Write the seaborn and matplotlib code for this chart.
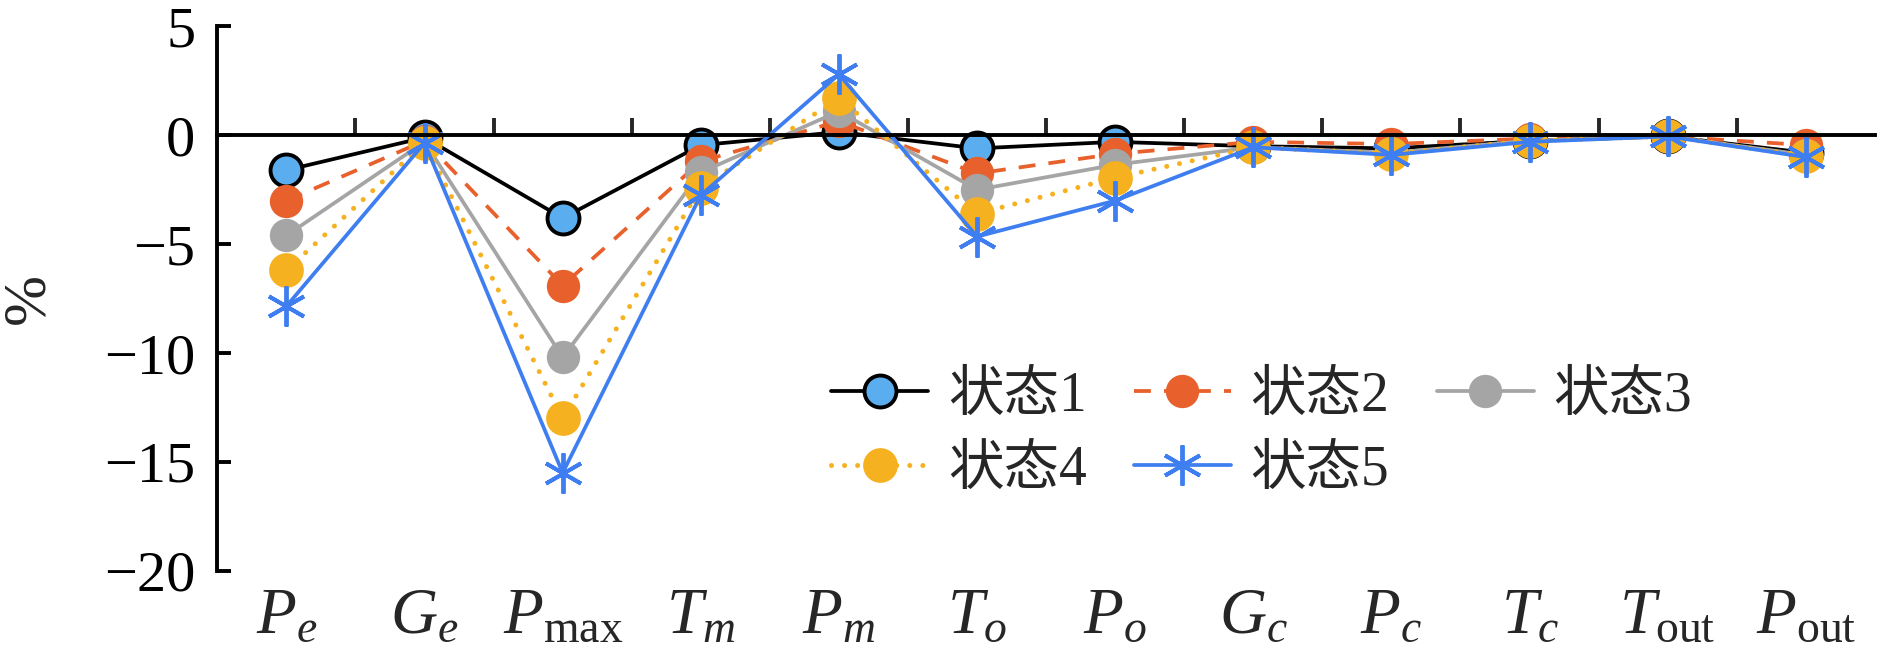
import numpy as np
import pandas as pd
import seaborn as sns
import matplotlib
matplotlib.use('Agg')
import matplotlib.pyplot as plt

# 参数名称
categories = [r'$P_e$', r'$G_e$', r'$P_{\mathrm{max}}$', r'$T_m$', r'$P_m$', r'$T_o$',
              r'$P_o$', r'$G_c$', r'$P_c$', r'$T_c$', r'$T_{\mathrm{out}}$', r'$P_{\mathrm{out}}$']

# 各状态下的相对变化 (%)
state1 = [-1.6, -0.1, -3.8, -0.45, 0.15, -0.6, -0.3, -0.5, -0.6, -0.25, -0.05, -0.8]
state2 = [-3.0, -0.25, -6.9, -1.2, 0.65, -1.75, -0.85, -0.3, -0.4, -0.15, -0.05, -0.45]
state3 = [-4.6, -0.3, -10.2, -1.7, 1.1, -2.5, -1.35, -0.55, -0.8, -0.25, -0.05, -0.9]
state4 = [-6.2, -0.35, -13.0, -2.4, 1.7, -3.6, -1.95, -0.55, -0.85, -0.25, -0.05, -0.95]
state5 = [-7.85, -0.35, -15.5, -2.75, 2.8, -4.65, -3.0, -0.55, -0.9, -0.3, -0.05, -1.0]

labels = ['状态1', '状态2', '状态3', '状态4', '状态5']
yticks = [5, 0, -5, -10, -15, -20]


def main():
    sns.set_theme(style='white')
    plt.rcParams['font.family'] = ['Liberation Serif', 'Noto Sans CJK SC']
    plt.rcParams['mathtext.fontset'] = 'custom'
    plt.rcParams['mathtext.it'] = 'Liberation Serif:italic'
    plt.rcParams['mathtext.rm'] = 'Liberation Serif'

    pos = np.arange(len(categories))
    data = pd.DataFrame({'pos': pos, '状态1': state1, '状态2': state2,
                         '状态3': state3, '状态4': state4, '状态5': state5})

    fig = plt.figure(figsize=(18.9, 6.45), dpi=100)
    ax = fig.add_axes([0.115, 0.115, 0.877, 0.844])

    lw = 2.7
    styles = {
        '状态1': dict(color='black', linestyle='-', marker='o', markersize=23,
                    markerfacecolor='#5AAEF0', markeredgecolor='black', markeredgewidth=2.8),
        '状态2': dict(color='#E8602C', linestyle=(0, (4.5, 3.5)), marker='o', markersize=24,
                    markerfacecolor='#E8602C', markeredgewidth=0),
        '状态3': dict(color='#A5A5A5', linestyle='-', marker='o', markersize=24,
                    markerfacecolor='#A5A5A5', markeredgewidth=0),
        '状态4': dict(color='#F5B11F', linestyle=(0, (0.01, 2.6)), dash_capstyle='round',
                    marker='o', markersize=25, markerfacecolor='#F5B11F', markeredgewidth=0,
                    linewidth=3.6),
        '状态5': dict(color='#3F7EF0', linestyle='-', marker=(6, 2, 0), markersize=29,
                    markeredgecolor='#3F7EF0', markeredgewidth=2.8),
    }

    for name in labels:
        kw = dict(styles[name])
        kw.setdefault('linewidth', lw)
        sns.lineplot(data=data, x='pos', y=name, ax=ax, label=name, **kw)

    ax.set_xlim(-0.5, len(categories) - 0.5)
    ax.set_ylim(-20, 5)
    ax.set_yticks(yticks)
    ax.set_yticklabels([str(v).replace('-', '\u2212') for v in yticks])

    # x轴放在0处, 刻度朝上
    ax.spines['top'].set_visible(False)
    ax.spines['right'].set_visible(False)
    ax.spines['bottom'].set_position(('data', 0))
    for s in ['left', 'bottom']:
        ax.spines[s].set_color('black')
        ax.spines[s].set_linewidth(2.8)
    ax.set_xticks(pos[:-1] + 0.5)
    ax.tick_params(axis='x', direction='in', length=12, width=2.8,
                   labelbottom=False, bottom=True)
    ax.tick_params(axis='y', direction='in', length=10, width=2.8,
                   labelsize=42, pad=16, left=True, colors='black')
    ax.set_xlabel('')
    ax.set_ylabel('%', fontsize=44, labelpad=34)

    sec = ax.secondary_xaxis('bottom')
    sec.set_xticks(pos)
    sec.set_xticklabels(categories)
    sec.tick_params(length=0, labelsize=47, pad=12)
    sec.spines['bottom'].set_visible(False)

    # 按行排列图例
    handles, names = ax.get_legend_handles_labels()
    order = [0, 3, 1, 4, 2]
    ax.legend([handles[i] for i in order], [names[i] for i in order],
              loc='center', bbox_to_anchor=(0.63, 0.252), ncol=3, frameon=False,
              fontsize=40, handlelength=1.75, handletextpad=0.35,
              columnspacing=0.85, labelspacing=0.4)

    plt.savefig('out.png', dpi=100)


if __name__ == '__main__':
    main()
